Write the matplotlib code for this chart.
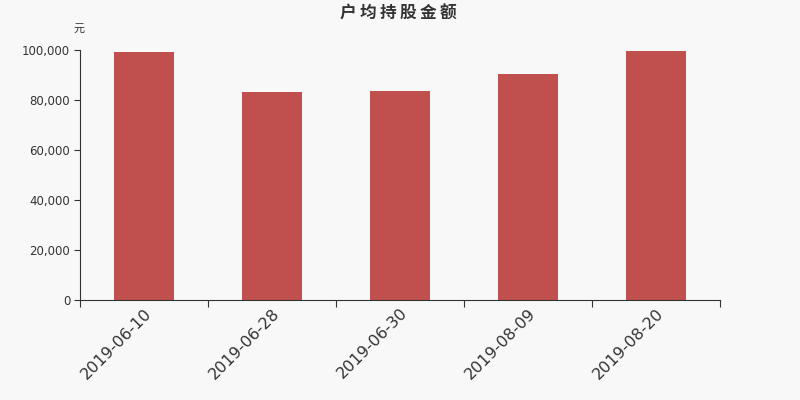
import matplotlib
matplotlib.use('Agg')
import matplotlib.pyplot as plt
import numpy as np

plt.rcParams['font.family'] = ['DejaVu Sans', 'Noto Sans CJK SC']

# data
dates = ['2019-06-10', '2019-06-28', '2019-06-30', '2019-08-09', '2019-08-20']
amounts = [99200, 83200, 83600, 90400, 99600]

bg = '#f8f8f8'
fig = plt.figure(figsize=(8, 4), dpi=100, facecolor=bg)
ax = fig.add_axes([0.1, 0.25, 0.8, 0.625], facecolor=bg)

x = np.arange(len(dates))
ax.bar(x, amounts, width=0.47, color='#c0504d', zorder=2)

ax.set_xlim(-0.5, len(dates) - 0.5)
ax.set_ylim(0, 100000)
ax.set_yticks(np.arange(0, 100001, 20000))
ax.set_yticklabels(['{:,}'.format(v) for v in range(0, 100001, 20000)],
                   fontsize=8.5, color='#333333')

# ticks on category boundaries, labels on centres
ax.set_xticks(np.arange(-0.5, len(dates), 1))
ax.set_xticklabels([])
ax.set_xticks(x, minor=True)
ax.set_xticklabels(dates, minor=True, rotation=45, ha='right', va='top',
                   rotation_mode='anchor', fontsize=11.5, color='#333333')
ax.tick_params(axis='x', which='minor', length=0, pad=4)
ax.tick_params(axis='x', which='major', length=5, color='#333333')
ax.tick_params(axis='y', length=4, color='#333333', pad=3)

for s in ['top', 'right']:
    ax.spines[s].set_visible(False)
for s in ['left', 'bottom']:
    ax.spines[s].set_color('#333333')

title = '\u2009'.join('户均持股金额')
fig.text(0.498, 0.965, title, ha='center', va='center',
         fontsize=12, fontweight='bold', color='#333333',
         family=['Noto Sans CJK SC', 'DejaVu Sans'])
fig.text(0.099, 0.928, '元', ha='center', va='center', fontsize=8,
         color='#333333', family=['Noto Sans CJK SC', 'DejaVu Sans'])

fig.savefig('out.png', dpi=100, facecolor=bg)
